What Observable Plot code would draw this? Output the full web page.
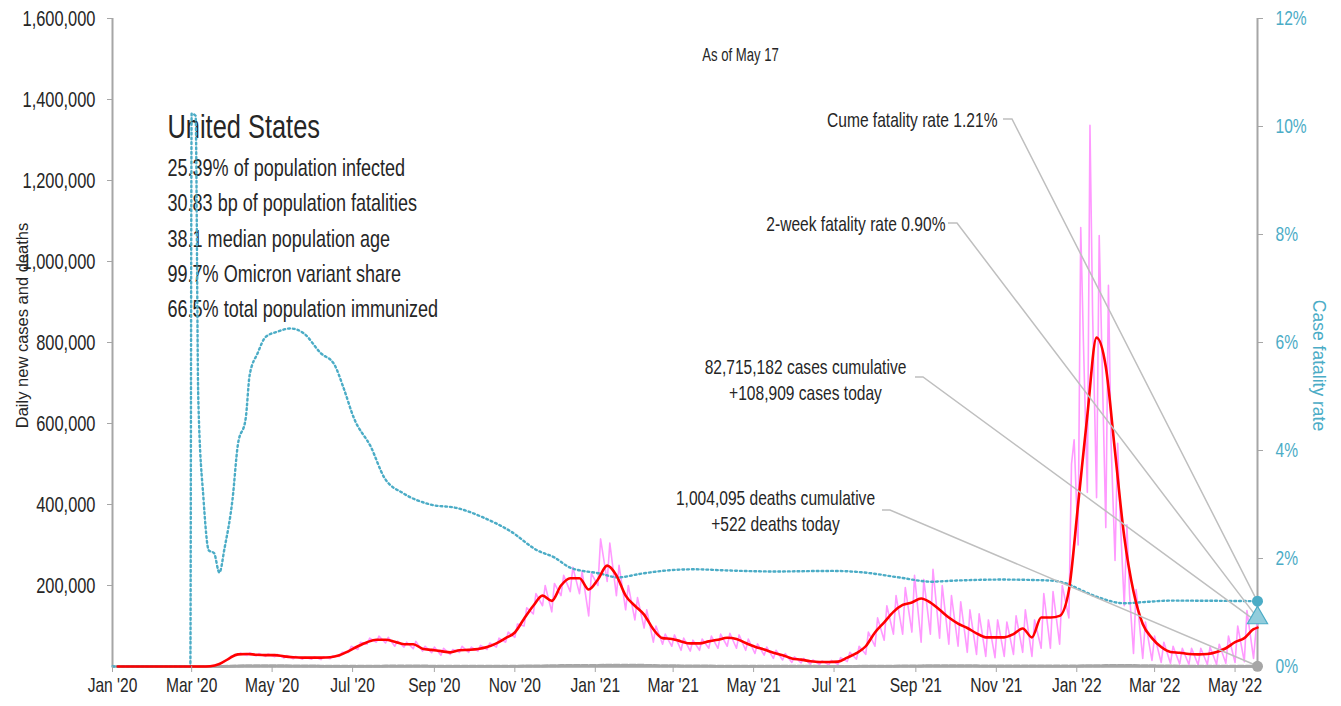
<!DOCTYPE html>
<html><head><meta charset="utf-8">
<script src="https://cdn.jsdelivr.net/npm/d3@7"></script>
<script src="https://cdn.jsdelivr.net/npm/@observablehq/plot@0.6"></script>
<style>
html,body{margin:0;padding:0;background:#fff;}
#chart svg{display:block;}
</style></head><body><div id="chart"></div>
<script>
// ---------- DATA ----------
const weekStart = "2020-01-05";          // Sundays, weekly grid
const lastDay = "2022-05-18";
// 7-day average of daily new cases, thousands (weekly samples)
const red7 = [0,0,0,0,0,0,0,0,0,0.1,0.8,6,19,30,31,29,28,28,25,23,22,22,22,23,28,38,50,60,66,66,61,55,55,44,41,38,35,40,41,43,48,57,70,84,118,150,175,162,200,218,218,190,215,249,225,175,150,128,92,70,68,62,57,57,62,66,71,68,58,49,42,34,28,20,17,13,11,11,12,22,33,50,84,109,135,152,158,168,158,140,121,106,95,82,72,72,72,80,94,72,121,121,125,188,400,620,812,740,530,320,185,105,70,48,36,34,31,30,31,36,45,60,70,92];
const red7Today = 96;
// daily new cases, thousands: weekend lows (Sun) and weekday highs (Tue)
const pinkLow = [0,0,0,0,0,0,0,0,0,0.1,0.5,4,18,28,27,26,25,24,21,19,18,18,17,19,25,35,42,55,60,58,50,48,44,38,34,28,30,35,35,38,42,48,60,72,100,130,150,135,175,185,180,125,200,210,175,140,115,95,60,55,50,40,38,40,45,45,50,45,40,32,28,20,16,10,9,6,5,4,5,12,18,30,50,65,80,80,85,60,80,70,55,50,35,30,25,22,25,30,35,25,45,45,55,120,300,430,417,343,262,150,32,20,15,10,8,6,5,4,5,5,8,10,12,20];
const pinkHigh = [0,0,0,0,0,0,0,0,0.05,0.3,1.5,10,26,33,34,32,31,30,27,25,23,24,24,26,35,50,60,70,75,72,63,60,62,50,48,45,42,50,48,52,58,70,85,105,145,180,200,205,225,245,235,230,315,305,250,200,170,140,100,80,78,70,65,68,75,80,82,78,68,56,48,40,32,24,20,16,14,15,22,35,50,85,120,150,175,195,225,215,240,200,175,160,140,130,115,115,110,125,140,115,180,185,200,500,1084,1336,1064,941,551,350,190,110,75,60,50,45,45,45,48,55,75,100,138,95];
const pinkMidDates = ["2021-12-30","2022-01-06","2022-01-13","2022-01-20","2022-01-27","2022-02-03","2022-02-10"];
const pinkMidVals = [560,805,871,780,551,360,180];
const casesToday = 108909;
// daily deaths, thousands (weekly samples)
const deathsWeekly = [0,0,0,0,0,0,0,0,0,0,0,0.1,0.5,1.5,2,2,1.9,1.8,1.6,1.4,1.2,1,0.9,0.7,0.6,0.6,0.6,0.7,0.8,1,1.1,1.1,1.1,1,0.9,0.8,0.8,0.8,0.8,0.7,0.7,0.75,0.8,0.85,1,1.2,1.5,1.6,2.2,2.5,2.7,2.5,2.7,3.3,3.1,3.1,3,2.8,2.2,2,1.9,1.5,1.3,1,0.95,0.85,0.75,0.75,0.7,0.7,0.62,0.6,0.55,0.5,0.4,0.35,0.3,0.28,0.25,0.27,0.3,0.35,0.45,0.6,0.8,1,1.25,1.5,1.9,2,2,1.9,1.7,1.6,1.4,1.3,1.2,1.1,1.1,1,1.2,1.3,1.3,1.3,1.5,1.8,2,2.2,2.5,2.6,2.3,2,1.7,1.4,1.1,0.9,0.7,0.6,0.5,0.4,0.35,0.35,0.35,0.35];
const deathsToday = 522;
// case fatality rate, %
const cfrDates = ["2020-01-01","2020-02-29","2020-03-01","2020-03-04","2020-03-06","2020-03-10","2020-03-14","2020-03-18","2020-03-22","2020-03-26","2020-04-01","2020-04-05","2020-04-11","2020-04-14","2020-04-20","2020-04-26","2020-05-05","2020-05-15","2020-05-25","2020-06-07","2020-06-17","2020-06-24","2020-07-02","2020-07-15","2020-07-25","2020-08-09","2020-08-29","2020-09-19","2020-10-08","2020-10-29","2020-11-18","2020-12-01","2020-12-13","2021-01-05","2021-01-18","2021-02-05","2021-02-25","2021-03-17","2021-04-09","2021-05-17","2021-06-29","2021-07-24","2021-08-19","2021-09-13","2021-09-30","2021-11-05","2021-12-13","2021-12-28","2022-01-02","2022-01-20","2022-02-06","2022-02-19","2022-03-14","2022-05-18"];
const cfrVals = [0,0,10.24,10.2,5.0,3.1,2.15,2.1,1.74,2.2,3.1,4.1,4.6,5.4,5.8,6.1,6.2,6.26,6.17,5.8,5.6,5.17,4.6,4.06,3.5,3.2,3.0,2.93,2.76,2.5,2.15,2.02,1.83,1.72,1.65,1.72,1.78,1.8,1.78,1.76,1.77,1.74,1.65,1.57,1.59,1.61,1.59,1.5,1.44,1.26,1.17,1.19,1.22,1.21];
const cumeCFR = 1.21;
const twoWeekCFR = 0.90;
// axes
const yTicks = [200000,400000,600000,800000,1000000,1200000,1400000,1600000];
const cfrTicks = [0,2,4,6,8,10,12];
const xTickDates = ["2020-01-01","2020-03-01","2020-05-01","2020-07-01","2020-09-01","2020-11-01","2021-01-01","2021-03-01","2021-05-01","2021-07-01","2021-09-01","2021-11-01","2022-01-01","2022-03-01","2022-05-01"];
// texts
const titleText = "United States";
const statLines = ["25.39% of population infected","30.83 bp of population fatalities","38.1 median population age","99.7% Omicron variant share","66.5% total population immunized"];
const asOfText = "As of May 17";
const cumeText = "Cume fatality rate 1.21%";
const twoWeekText = "2-week fatality rate 0.90%";
const casesLines = ["82,715,182 cases cumulative","+108,909 cases today"];
const deathsLines = ["1,004,095 deaths cumulative","+522 deaths today"];
const yLeftLabel = "Daily new cases and deaths";
const yRightLabel = "Case fatality rate";

// ---------- BUILD ----------
const FN = "'Liberation Sans',Arial,sans-serif";
const TEAL = "#4bacc6", PINK = "#ff99ff", RED = "#ff0000", GRAY = "#a6a6a6", LEAD = "#bfbfbf", TXT = "#262626";
const yMax = 1600000, cfrMax = 12, cfrScale = yMax / cfrMax;
const K = 1.1;              // taller condensed glyphs
const fs = s => s * K;

const d0 = new Date(weekStart);
const wk = i => d3.utcDay.offset(d0, 7 * i);
const lastD = new Date(lastDay);

const pinkData = [];
pinkLow.forEach((v, i) => pinkData.push({date: wk(i), v: v * 1000}));
pinkHigh.forEach((v, i) => pinkData.push({date: d3.utcDay.offset(wk(i), 2), v: v * 1000}));
pinkMidDates.forEach((d, i) => pinkData.push({date: new Date(d), v: pinkMidVals[i] * 1000}));
pinkData.push({date: lastD, v: casesToday});
pinkData.sort((a, b) => a.date - b.date);

const redData = red7.map((v, i) => ({date: wk(i), v: v * 1000}));
redData.push({date: lastD, v: red7Today * 1000});
const deathData = deathsWeekly.map((v, i) => ({date: wk(i), v: v * 1000}));
deathData.push({date: lastD, v: deathsToday});
const cfrData = cfrDates.map((d, i) => ({date: new Date(d), v: cfrVals[i] * cfrScale}));

const xDomain = [new Date("2020-01-01"), lastD];
const txt = (s, o) => Plot.text([s], {frameAnchor: "top-left", lineAnchor: "middle", fill: TXT, fontFamily: FN, ...o});

const plot = Plot.plot({
  width: 1341, height: 706,
  marginLeft: 112, marginRight: 84, marginTop: 18, marginBottom: 40,
  style: {fontFamily: FN, fontSize: "19px", color: TXT, background: "#fff", overflow: "visible"},
  x: {type: "utc", domain: xDomain, axis: null},
  y: {domain: [0, yMax], axis: null},
  marks: [
    txt(titleText, {dx: 55, dy: 109, textAnchor: "start", fontSize: fs(31)}),
    ...statLines.map((s, i) => txt(s, {dx: 55, dy: 150 + 35.2 * i, textAnchor: "start", fontSize: fs(22)})),
    txt(asOfText, {dx: 628, dy: 37, textAnchor: "middle", fontSize: fs(16)}),
    txt(cumeText, {dx: 885, dy: 102, textAnchor: "end", fontSize: fs(19)}),
    txt(twoWeekText, {dx: 833, dy: 206, textAnchor: "end", fontSize: fs(19)}),
    ...casesLines.map((s, i) => txt(s, {dx: 693, dy: 349 + 26 * i, textAnchor: "middle", fontSize: fs(19)})),
    ...deathsLines.map((s, i) => txt(s, {dx: 663, dy: 480 + 26 * i, textAnchor: "middle", fontSize: fs(19)})),
    txt(yLeftLabel, {dx: -90, dy: 307, rotate: -90, textAnchor: "middle", fontSize: 16.5}),
    txt(yRightLabel, {dx: 1206, dy: 347, rotate: 90, textAnchor: "middle", fontSize: 17.5, fill: TEAL}),
    Plot.ruleX([xDomain[0]], {stroke: GRAY, strokeWidth: 2}),
    Plot.ruleX([xDomain[1]], {stroke: GRAY, strokeWidth: 2}),
    Plot.ruleY([0], {stroke: GRAY, strokeWidth: 2.5}),
    Plot.line(pinkData, {x: "date", y: "v", stroke: PINK, strokeWidth: 1.6}),
    Plot.line(deathData, {x: "date", y: "v", stroke: GRAY, strokeWidth: 3, strokeDasharray: "6 2"}),
    Plot.line(cfrData, {x: "date", y: "v", stroke: TEAL, strokeWidth: 2.4, strokeDasharray: "1.8 3", curve: "monotone-x"}),
    Plot.line(redData, {x: "date", y: "v", stroke: RED, strokeWidth: 2.6, curve: "monotone-x"}),
    Plot.axisY(yTicks, {anchor: "left", label: null, tickSize: 5, tickPadding: 12, stroke: GRAY, fill: TXT, tickFormat: d3.format(","), fontSize: fs(20)}),
    Plot.axisY(cfrTicks.map(p => p * cfrScale), {anchor: "right", label: null, tickSize: 5, tickPadding: 13, stroke: GRAY, fill: TEAL, tickFormat: v => Math.round(v / cfrScale) + "%", fontSize: fs(19)}),
    Plot.axisX(xTickDates.map(d => new Date(d)), {anchor: "bottom", label: null, tickSize: 6, tickPadding: 5, stroke: GRAY, fill: TXT, tickFormat: d3.utcFormat("%b '%y"), fontSize: fs(19)}),
    Plot.dot([{date: lastD, v: deathsToday}], {x: "date", y: "v", r: 5.5, fill: GRAY}),
    Plot.dot([{date: lastD, v: twoWeekCFR * cfrScale}], {x: "date", y: "v", r: 7.5, symbol: "triangle", fill: "#92cddc", stroke: TEAL, strokeWidth: 1.2}),
    Plot.dot([{date: lastD, v: cumeCFR * cfrScale}], {x: "date", y: "v", r: 5.5, fill: TEAL})
  ]
});
document.getElementById("chart").append(plot);

// condensed look: narrow every label except the two axis titles
plot.querySelectorAll("text").forEach(t => {
  const s = t.textContent;
  if (s === yLeftLabel || s === yRightLabel || t.querySelector("tspan")) return;
  const L = t.getComputedTextLength();
  if (L > 0) { t.setAttribute("textLength", (L * 0.82 / K).toFixed(1)); t.setAttribute("lengthAdjust", "spacingAndGlyphs"); }
});

// leader lines from annotations to end-of-series markers
const Y = plot.scale("y"), X = plot.scale("x");
const ex = X.apply(lastD);
const leaders = [
  {x0: 1003, x1: 1012, y0: 119, v: cumeCFR * cfrScale},
  {x0: 948, x1: 957, y0: 223, v: twoWeekCFR * cfrScale},
  {x0: 915, x1: 923, y0: 377, v: casesToday},
  {x0: 882, x1: 890, y0: 510, v: deathsToday}
];
const firstDot = plot.querySelector('g[aria-label="dot"]');
const g = document.createElementNS("http://www.w3.org/2000/svg", "g");
plot.insertBefore(g, firstDot);
d3.select(g).selectAll("path").data(leaders).join("path")
  .attr("d", d => `M${d.x0},${d.y0}L${d.x1},${d.y0}L${ex},${Y.apply(d.v)}`)
  .attr("fill", "none").attr("stroke", LEAD).attr("stroke-width", 1.5);
</script>
</body></html>
